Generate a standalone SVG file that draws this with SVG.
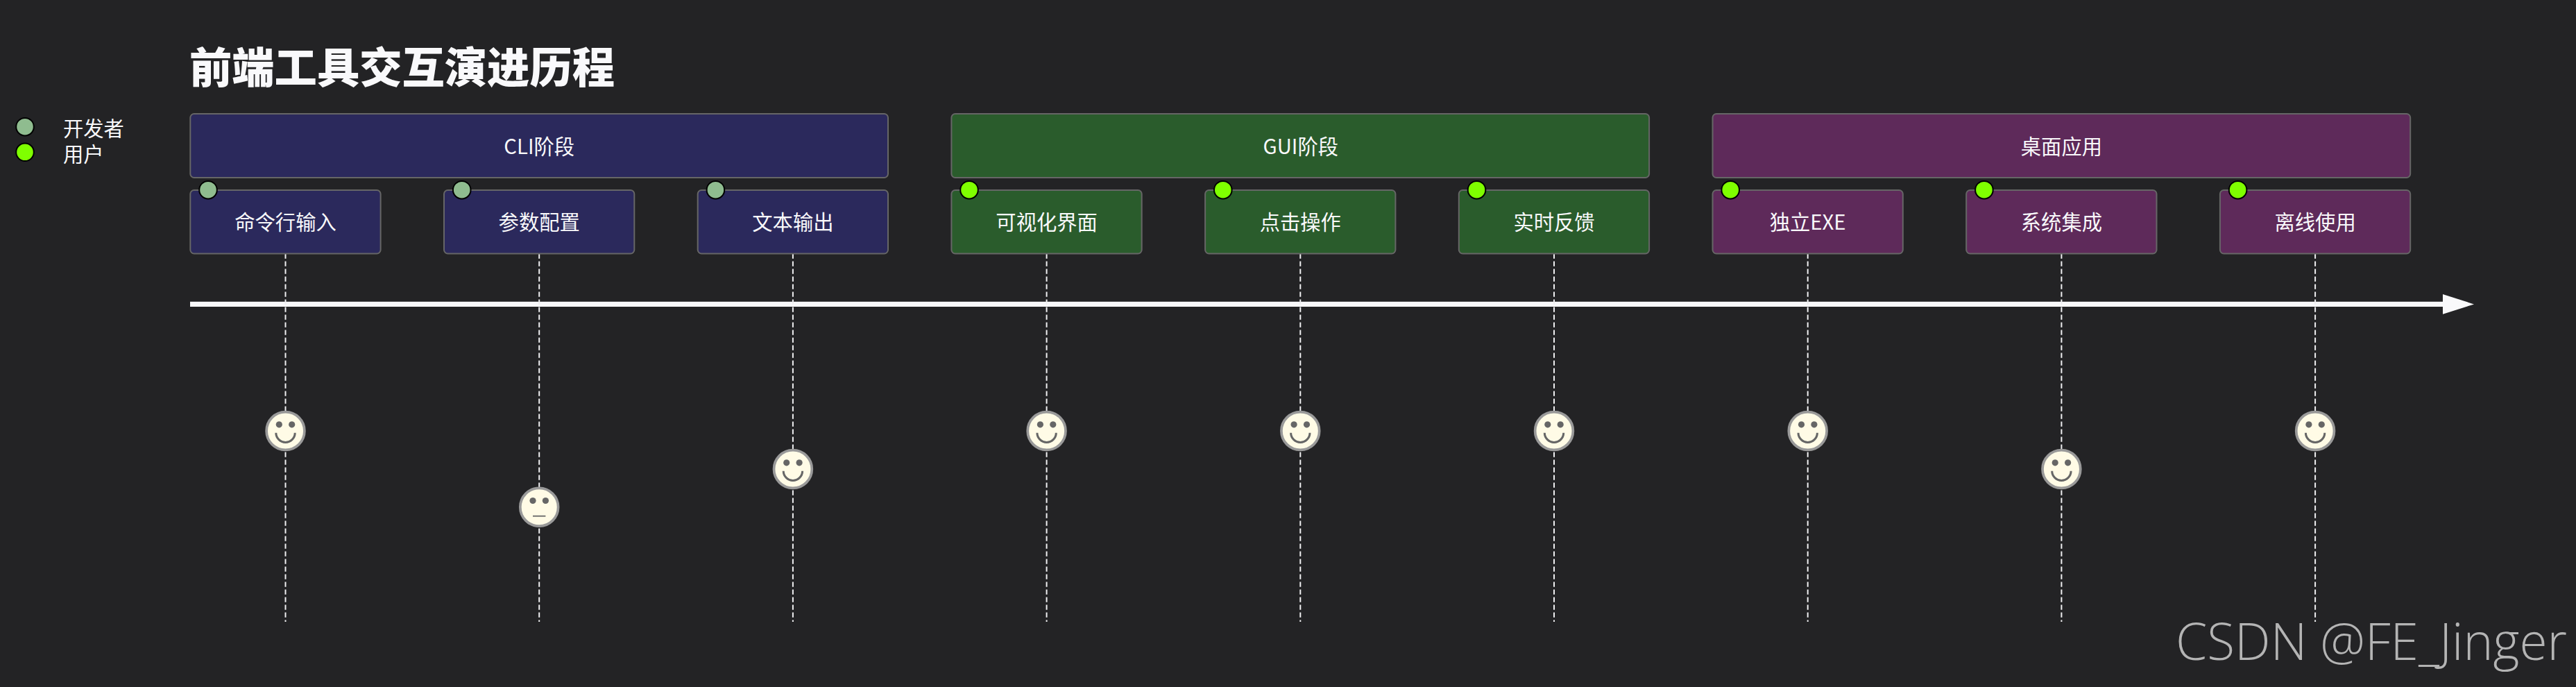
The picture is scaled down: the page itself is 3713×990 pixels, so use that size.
<svg xmlns="http://www.w3.org/2000/svg" width="3713" height="990" viewBox="0 0 3713 990">
<style>
text{font-family:"Noto Sans CJK SC","Noto Sans",sans-serif;fill:#f9f9fb;font-size:29.3px}
.c{text-anchor:middle;dominant-baseline:central}
.box{stroke:#666;stroke-width:2}
.blue{fill:#2b295c}.green{fill:#2a5c2c}.purple{fill:#5e2a5a}
.dev{fill:#8fbc8f;stroke:#000;stroke-width:2}
.usr{fill:#7fff00;stroke:#000;stroke-width:2}
.dash{stroke:#f0f0f2;stroke-width:2;stroke-dasharray:7.3 3.7;fill:none}
.head{fill:#fffbe6;stroke:#999;stroke-width:3.7}
.feat{fill:#666}
.mouth{fill:none;stroke:#666;stroke-width:3}
.flat{fill:none;stroke:#666;stroke-width:1.8}
</style>
<defs>
<g id="happy"><circle r="27.4" class="head"/><circle cx="-9.2" cy="-9.2" r="4.6" class="feat"/><circle cx="9.2" cy="-9.2" r="4.6" class="feat"/><path d="M-13.7 2.7A13.7 13.7 0 0 0 13.7 2.7" class="mouth"/></g>
<g id="neutral"><circle r="27.4" class="head"/><circle cx="-9.2" cy="-9.2" r="4.6" class="feat"/><circle cx="9.2" cy="-9.2" r="4.6" class="feat"/><path d="M-9.2 13H9.2" class="flat"/></g>
</defs>
<rect width="3713" height="990" fill="#232325"/>
<text id="title" x="273" y="120" style="font-size:61.3px;font-weight:900">前端工具交互演进历程</text>
<g id="legend">
<circle cx="36" cy="182.7" r="12.8" class="dev"/><text x="91" y="183" style="dominant-baseline:central">开发者</text>
<circle cx="36" cy="219.3" r="12.8" class="usr"/><text x="91" y="220" style="dominant-baseline:central">用户</text>
</g>
<g id="connectors">
<path d="M274 438.4H3525" stroke="#f9f9fb" stroke-width="7.3" fill="none"/>
<path d="M3521 424L3566 438.4L3521 452.8Z" fill="#f9f9fb"/>
<path class="dash" d="M411.5 365.5V896"/>
<path class="dash" d="M777.2 365.5V896"/>
<path class="dash" d="M1142.9 365.5V896"/>
<path class="dash" d="M1508.6 365.5V896"/>
<path class="dash" d="M1874.3 365.5V896"/>
<path class="dash" d="M2240 365.5V896"/>
<path class="dash" d="M2605.7 365.5V896"/>
<path class="dash" d="M2971.4 365.5V896"/>
<path class="dash" d="M3337.1 365.5V896"/>
</g>
<g id="section-cli"><rect x="274.3" y="164" width="1005.7" height="92" rx="5.5" class="box blue"/><text class="c" x="777.2" y="209">CLI阶段</text></g>
<g id="section-gui"><rect x="1371.4" y="164" width="1005.7" height="92" rx="5.5" class="box green"/><text class="c" x="1874.8" y="209">GUI阶段</text></g>
<g id="section-desktop"><rect x="2468.5" y="164" width="1005.7" height="92" rx="5.5" class="box purple"/><text class="c" x="2971.4" y="209">桌面应用</text></g>
<g id="task-1"><rect x="274.3" y="274" width="274.3" height="91.5" rx="5.5" class="box blue"/><circle cx="300" cy="273.7" r="12.8" class="dev"/><text class="c" x="411.5" y="318">命令行输入</text><use href="#happy" x="411.5" y="621"/></g>
<g id="task-2"><rect x="640" y="274" width="274.3" height="91.5" rx="5.5" class="box blue"/><circle cx="665.7" cy="273.7" r="12.8" class="dev"/><text class="c" x="777.2" y="318">参数配置</text><use href="#neutral" x="777.2" y="730.7"/></g>
<g id="task-3"><rect x="1005.7" y="274" width="274.3" height="91.5" rx="5.5" class="box blue"/><circle cx="1031.4" cy="273.7" r="12.8" class="dev"/><text class="c" x="1142.9" y="318">文本输出</text><use href="#happy" x="1142.9" y="676"/></g>
<g id="task-4"><rect x="1371.4" y="274" width="274.3" height="91.5" rx="5.5" class="box green"/><circle cx="1397" cy="273.7" r="12.8" class="usr"/><text class="c" x="1508.6" y="318">可视化界面</text><use href="#happy" x="1508.6" y="621"/></g>
<g id="task-5"><rect x="1737.1" y="274" width="274.3" height="91.5" rx="5.5" class="box green"/><circle cx="1762.8" cy="273.7" r="12.8" class="usr"/><text class="c" x="1874.3" y="318">点击操作</text><use href="#happy" x="1874.3" y="621"/></g>
<g id="task-6"><rect x="2102.8" y="274" width="274.3" height="91.5" rx="5.5" class="box green"/><circle cx="2128.5" cy="273.7" r="12.8" class="usr"/><text class="c" x="2240" y="318">实时反馈</text><use href="#happy" x="2240" y="621"/></g>
<g id="task-7"><rect x="2468.5" y="274" width="274.3" height="91.5" rx="5.5" class="box purple"/><circle cx="2494.2" cy="273.7" r="12.8" class="usr"/><text class="c" x="2605.7" y="318">独立EXE</text><use href="#happy" x="2605.7" y="621"/></g>
<g id="task-8"><rect x="2834.2" y="274" width="274.3" height="91.5" rx="5.5" class="box purple"/><circle cx="2859.9" cy="273.7" r="12.8" class="usr"/><text class="c" x="2971.4" y="318">系统集成</text><use href="#happy" x="2971.4" y="676"/></g>
<g id="task-9"><rect x="3199.9" y="274" width="274.3" height="91.5" rx="5.5" class="box purple"/><circle cx="3225.6" cy="273.7" r="12.8" class="usr"/><text class="c" x="3337.1" y="318">离线使用</text><use href="#happy" x="3337.1" y="621"/></g>
<text id="watermark" x="3136" y="951" style="font-family:'Open Sans',sans-serif;font-weight:360;font-stretch:93%;font-size:73px;fill:#b4b4b4">CSDN @FE_Jinger</text>
</svg>
